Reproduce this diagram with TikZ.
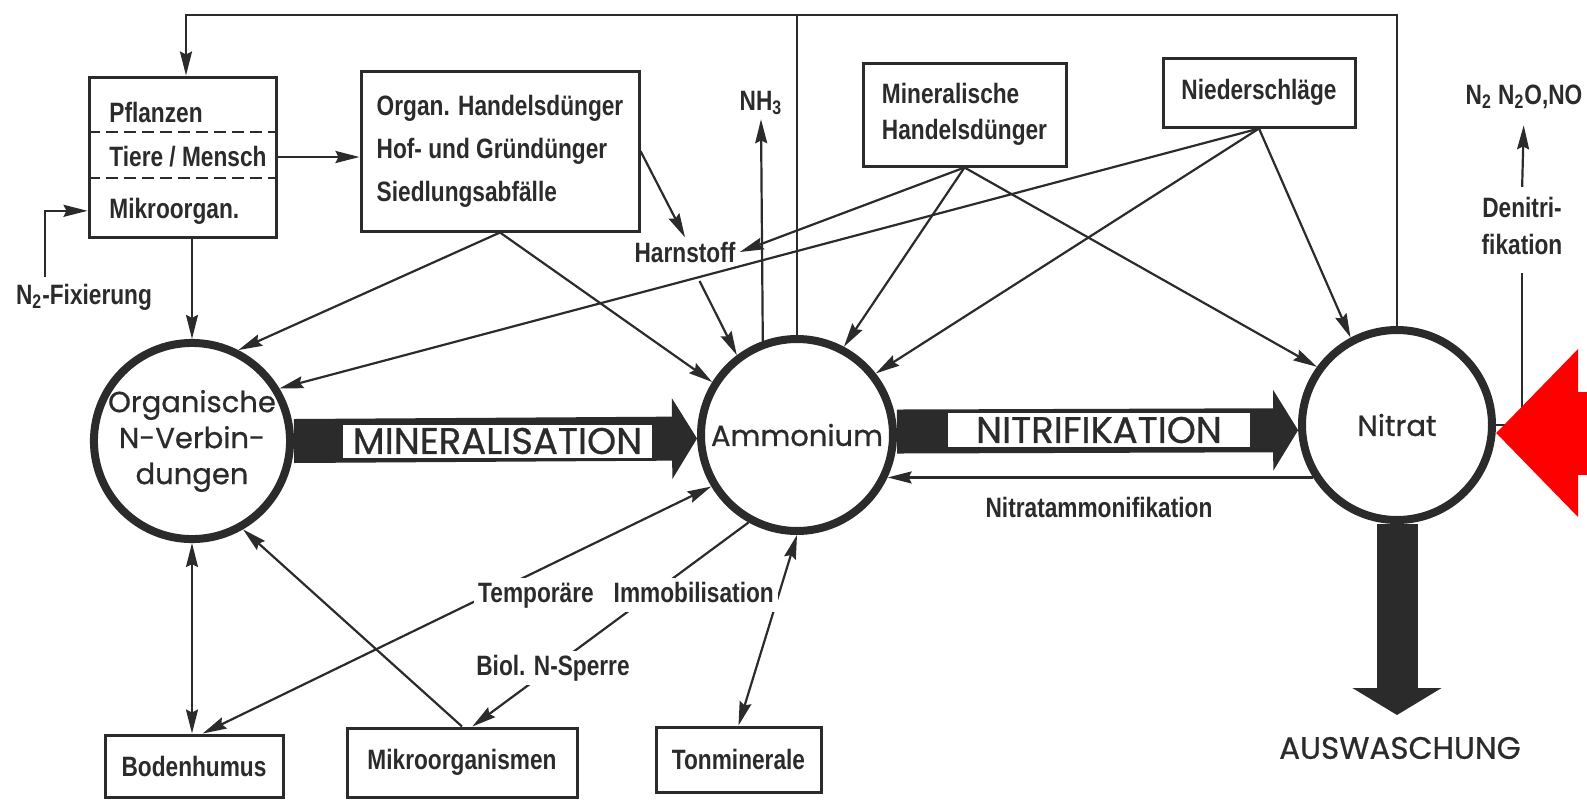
\documentclass[tikz,border=0pt]{standalone}
\usepackage{fontspec}
\newfontfamily\schildfont[FakeStretch=0.81]{Liberation Sans Bold}
\newfontfamily\rundfont[FakeBold=0.7]{Poppins}
\usetikzlibrary{calc,arrows.meta}
\definecolor{tusche}{gray}{0.17}

\tikzset{
  kasten/.style={draw, line width=1.5pt, inner sep=0pt, align=left,
    font=\schildfont\fontsize{14}{18}\selectfont},
  kreis/.style={draw, circle, line width=4pt, fill=white, inner sep=0pt, align=center,
    font=\rundfont\fontsize{14.5}{18}\selectfont},
  schrift/.style={inner sep=2pt, align=center, font=\schildfont\fontsize{14}{18.5}\selectfont},
  linie/.style={line width=1.1pt},
  pfeil/.style={linie, -{Stealth[length=12pt 0 0, width=6pt 0 0, inset=1.5pt]}},
  doppelpfeil/.style={linie, {Stealth[length=12pt 0 0, width=6pt 0 0, inset=1.5pt]}-{Stealth[length=12pt 0 0, width=6pt 0 0, inset=1.5pt]}},
  dickpfeil/.style={line width=22pt, -{Triangle[length=12.5pt 0 0, width=40pt 0 0]}},
  band/.style={draw, line width=1pt, fill=white, inner sep=0pt,
    font=\rundfont\fontsize{18.5}{20}\selectfont},
}

\begin{document}
\begin{tikzpicture}[x=0.5pt, y=-0.5pt, color=tusche] % 1 Einheit = 1 Bildpunkt
\useasboundingbox (0,0) rectangle (1587,799);

%KREISE
\node[kreis, minimum size=92pt] (org) at (192,441) {Organische\\N-Verbin-\\dungen};
\node[kreis, minimum size=96pt] (amm) at (797,435) {Ammonium};
\node[kreis, minimum size=95pt] (nit) at (1397,425) {Nitrat};

%DICKE PFEILE
\draw[dickpfeil] (org.east) -- (amm.182);
\node[band, minimum width=155.5pt, minimum height=17.5pt] (minlbl) at (497.5,441) {MINERALISATION};
\draw[dickpfeil] (amm.2) -- (nit.183);
\node[band, minimum width=152pt, minimum height=18pt] (nitlbl) at (1099,430) {NITRIFIKATION};
\coordinate (auswfuss) at (1397,715);
\draw[line width=20.5pt, -{Triangle[length=13.5pt 0 0, width=44pt 0 0]}] (nit.south) -- (auswfuss);
\node[font=\rundfont\fontsize{15.5}{18}\selectfont] (ausw) at (1400,748) {AUSWASCHUNG};

%KAESTEN OBEN
\node[kasten, minimum width=93.5pt, minimum height=80pt] (pfl) at (182.5,157) {};
\node[schrift, anchor=base west] (pflz) at (105,122) {Pflanzen};
\node[schrift, anchor=base west] (tier) at (105,166) {Tiere / Mensch};
\node[schrift, anchor=base west] (mikr) at (105,218) {Mikroorgan.};
\draw[dashed, line width=1pt, dash pattern=on 6pt off 3pt]
  ($(pfl.north west)!0.344!(pfl.south west)$) -- ($(pfl.north east)!0.344!(pfl.south east)$);
\draw[dashed, line width=1pt, dash pattern=on 6pt off 3pt]
  ($(pfl.north west)!0.631!(pfl.south west)$) -- ($(pfl.north east)!0.631!(pfl.south east)$);

\node[kasten, minimum width=139pt, minimum height=80pt,
  font=\schildfont\fontsize{14}{21.5}\selectfont] (dung) at (500,151)
  {Organ. Handelsdünger\\Hof- und Gründünger\\Siedlungsabfälle};
\node[kasten, minimum width=101.5pt, minimum height=51.5pt] (miner) at (964.5,114.5)
  {Mineralische\\Handelsdünger};
\node[kasten, minimum width=96pt, minimum height=34.5pt] (nied) at (1259,92.5) {Niederschläge};

%KAESTEN UNTEN
\node[kasten, minimum width=89pt, minimum height=31pt] (boden) at (194,766) {Bodenhumus};
\node[kasten, minimum width=115pt, minimum height=34.5pt] (mikro) at (462,762.5) {Mikroorganismen};
\node[kasten, minimum width=82.5pt, minimum height=32.5pt] (ton) at (738.5,759.5) {Tonminerale};

%BESCHRIFTUNGEN
\node[schrift] (harn) at (685,252) {Harnstoff};
\node[schrift] (nh3) at (761,103) {NH\textsubscript{3}};
\node[schrift] (n2fix) at (84,297) {N\textsubscript{2}-Fixierung};
\node[schrift] (denit) at (1522,226) {Denitri-\\fikation};
\node[schrift] (gase) at (1524,97) {N\textsubscript{2} N\textsubscript{2}O,NO};
\node[schrift] (natam) at (1099,507) {Nitratammonifikation};

%OBERE LEITUNG
\coordinate (obenL) at (186,15);
\draw[pfeil] (nit.north) |- (obenL) -- (obenL |- pfl.north);
\draw[linie] (amm.north) -- (amm.north |- obenL);
\draw[pfeil] (amm.110) -- (nh3.south);

%ZUFLUESSE
\coordinate (fixfuss) at (45,277);
\draw[pfeil] (fixfuss) |- (pfl.west |- mikr.west);
\draw[pfeil] (pfl.east) -- (dung.west |- pfl.east);
\draw[pfeil] (pfl.south -| org.north) -- (org.north);
\draw[pfeil] (dung.east) -- (harn.north);
\draw[pfeil, shorten <=8pt] (harn) -- (amm.127);
\draw[pfeil] (dung.south) -- (org.63);
\draw[pfeil] (dung.south) -- (amm.148);
\draw[pfeil] (miner.south) -- (harn.east);
\draw[pfeil] (miner.south) -- (amm.62);
\draw[pfeil] (miner.south) -- (nit.144);
\draw[pfeil] (nied.south) -- (org.31);
\draw[pfeil] (nied.south) -- (amm.38);
\draw[pfeil] (nied.south) -- (nit.118);

%RUECKWEG UND DENITRIFIKATION
\draw[pfeil] (nit.212) -- (nit.212 -| amm.-25);
\draw[linie, shorten >=7pt] (nit.east) -| (denit.south);
\draw[pfeil, shorten <=3pt, shorten >=6pt] (denit.north) -- (gase.south);

%UNTEN
\draw[doppelpfeil] (org.south) -- (org.south |- boden.north);
\draw[pfeil] (mikro.north) -- (org.-60);
\draw[doppelpfeil] (boden.75) -- (amm.211);
\draw[pfeil] (amm.241) -- (mikro.74);
\draw[doppelpfeil] (ton.north) -- (amm.south);
\node[schrift, fill=white] (immo) at (626,595) {Temporäre\hspace{10pt}Immobilisation};
\node[schrift, fill=white] (sperre) at (553,668) {Biol. N-Sperre};

%ROTER PFEIL
\coordinate (rotfuss) at (1640,433);
\draw[red, line width=41.5pt, -{Triangle[length=41pt 0 0, width=81.5pt 0 0]}] (rotfuss) -- (nit.east |- rotfuss);

\end{tikzpicture}
\end{document}
